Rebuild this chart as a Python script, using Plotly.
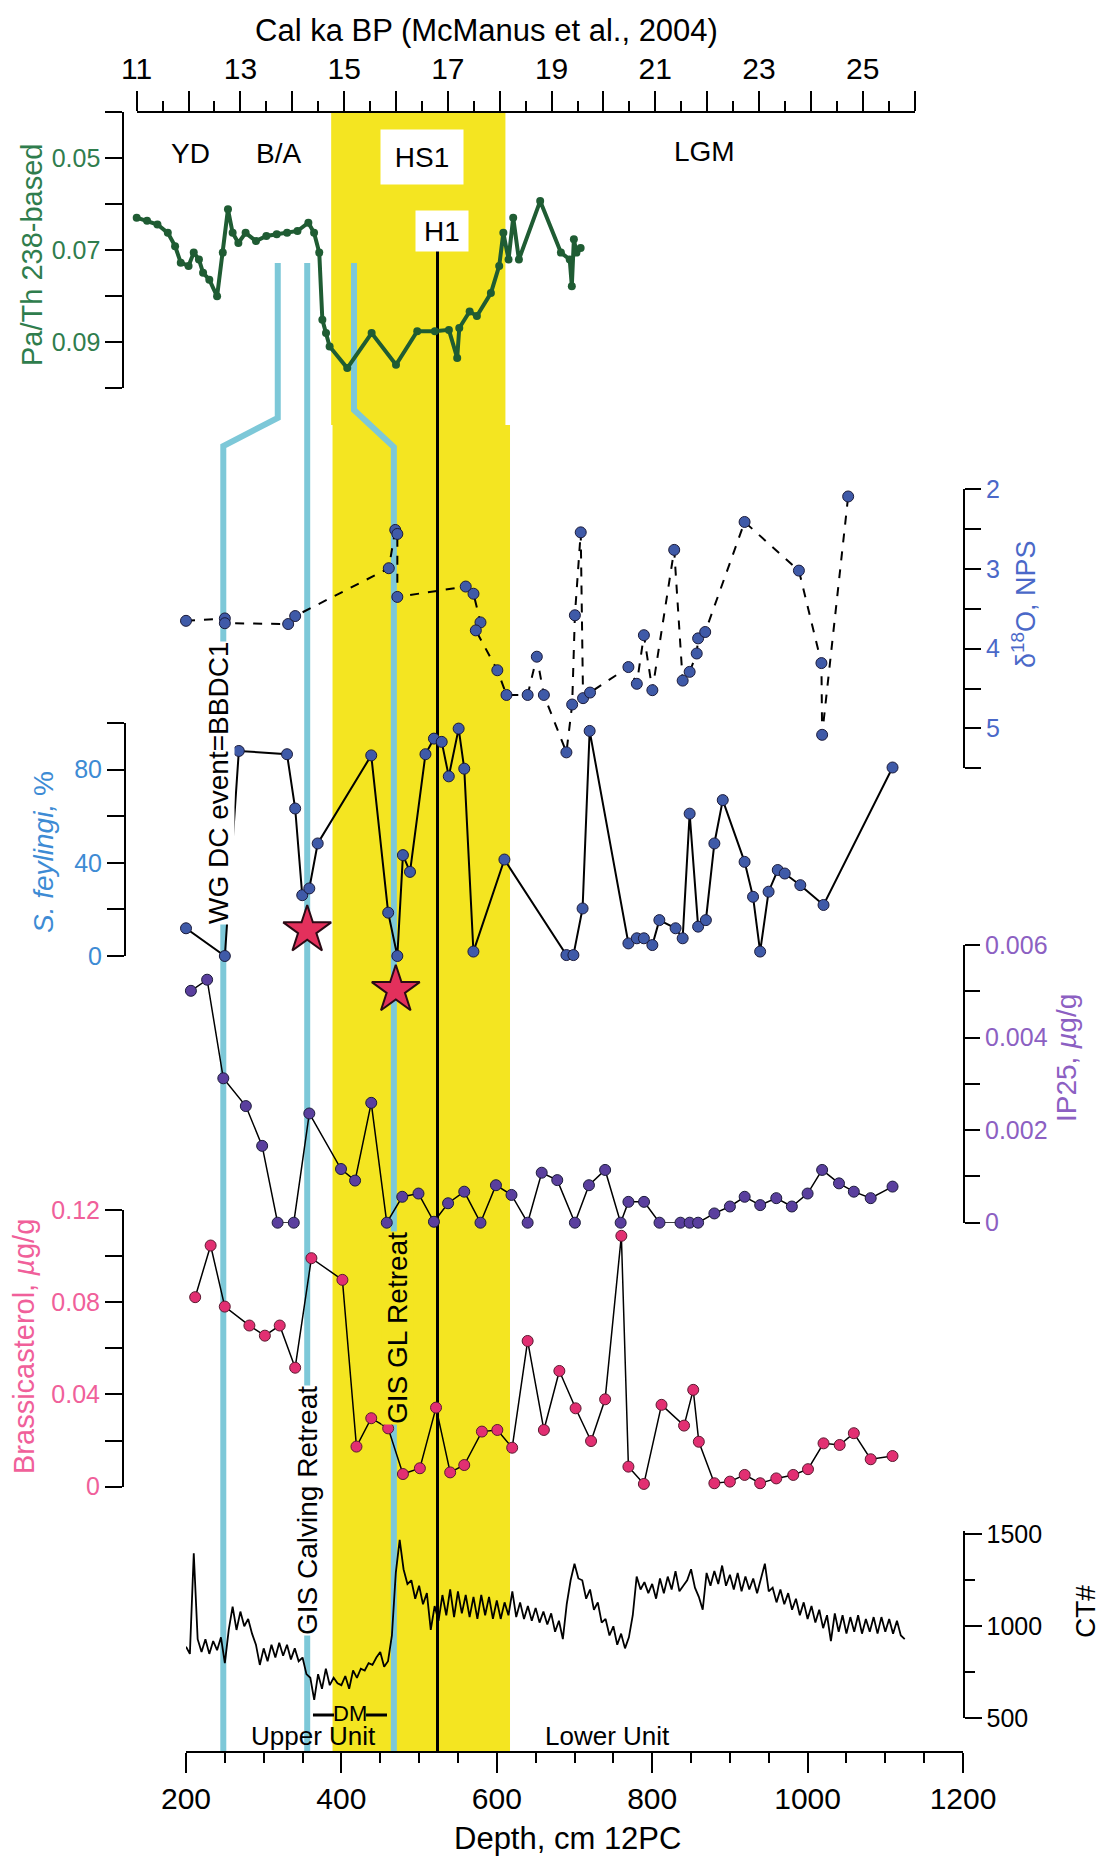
import plotly.graph_objects as go

W, H = 1104, 1861

# ---------------- data ----------------
# Pa/Th (238-based) vs calendar age (ka BP)
pa_age = [11.0, 11.2, 11.4, 11.6, 11.74, 11.85, 12.0, 12.1, 12.2, 12.28, 12.4, 12.55, 12.66, 12.76,
          12.85, 12.96, 13.1, 13.3, 13.5, 13.7, 13.9, 14.1, 14.31, 14.42, 14.52, 14.58, 14.65, 14.72,
          15.06, 15.53, 16.0, 16.41, 16.75, 17.02, 17.18, 17.22, 17.42, 17.56, 17.83, 17.99, 18.07,
          18.17, 18.26, 18.37, 18.78, 19.18, 19.35, 19.39, 19.43, 19.48, 19.56]
pa_val = [0.0629, 0.0636, 0.0644, 0.0662, 0.0691, 0.0727, 0.0734, 0.0705, 0.0720, 0.0749, 0.0764,
          0.0800, 0.0705, 0.0611, 0.0662, 0.0684, 0.0662, 0.0680, 0.0669, 0.0665, 0.0662, 0.0658,
          0.0640, 0.0662, 0.0705, 0.0851, 0.0880, 0.0909, 0.0956, 0.0880, 0.0949, 0.0876, 0.0876,
          0.0873, 0.0934, 0.0869, 0.0833, 0.0843, 0.0793, 0.0734, 0.0662, 0.0720, 0.0629, 0.0720,
          0.0593, 0.0705, 0.0720, 0.0778, 0.0676, 0.0705, 0.0695]

# delta18O NPS vs depth
d18_depth = [200, 250, 250, 331.5, 340.5, 461, 469.3, 472, 472, 560, 570, 579, 573, 600.7, 612.5,
             639.7, 651.5, 660.6, 689.6, 697, 700.5, 708, 711, 720, 769.4, 780.2, 789.3, 800.2,
             828.3, 839.2, 848.2, 857.3, 859.1, 868.2, 918.9, 988.8, 1017.8, 1018.7, 1052.2]
d18_val = [3.65, 3.62, 3.68, 3.69, 3.59, 2.99, 2.51, 2.56, 3.35, 3.22, 3.31, 3.67, 3.77, 4.27, 4.58,
           4.58, 4.10, 4.58, 5.30, 4.70, 3.58, 2.54, 4.62, 4.55, 4.23, 4.44, 3.83, 4.52, 2.76, 4.40,
           4.29, 4.06, 3.87, 3.79, 2.41, 3.02, 4.18, 5.08, 2.09]

# S. feylingi %
sf_depth = [200, 250, 268, 330, 340.5, 349.6, 358.7, 369.5, 438.4, 460.2, 472, 479.2, 488.3, 508.2,
            519.1, 529.1, 538.2, 550.9, 558.1, 569.9, 609.8, 689.6, 698.6, 710.4, 719.5, 769.4,
            780.2, 789.3, 800.2, 809.2, 830.1, 839.2, 848.2, 859.1, 869.1, 880, 890.8, 918.9, 929.8,
            938.9, 949.8, 961.6, 970.6, 990.6, 1020.5, 1109.3]
sf_val = [11.9, 0, 88, 86.6, 63.3, 26.1, 29, 48.3, 86.1, 18.6, 0, 43.3, 36.1, 86.6, 93.3, 91.9, 77.1,
          97.6, 80.4, 1.9, 41.4, 0.4, 0.4, 20.4, 96.6, 5.4, 7.6, 7.6, 4.7, 15.4, 11.9, 7.6, 61.1,
          12.6, 15.4, 48.3, 66.9, 40.4, 25.4, 1.9, 27.6, 36.9, 35.4, 30.4, 21.9, 80.9]

# IP25 ug/g
ip_depth = [206.3, 227.2, 248, 277, 298, 317.9, 338.7, 358.7, 399.5, 417.6, 438.4, 458.4, 478.3,
            499.2, 519.1, 537.3, 558.1, 579, 598.9, 618.9, 639.7, 657.8, 677.8, 700.5, 718.6, 739.4,
            759.4, 769.4, 789.5, 809.4, 836.4, 848.2, 859.1, 880, 900, 919, 939, 959.7, 979.7, 1000,
            1018.7, 1040.4, 1059.5, 1081.2, 1109.3]
ip_val = [0.00501, 0.00525, 0.00312, 0.00252, 0.00166, 0.0, 0.0, 0.00236, 0.00116, 0.00091, 0.00259,
          0.0, 0.00056, 0.00063, 0.00002, 0.00042, 0.00067, 0.0, 0.00081, 0.00060, 0.0, 0.00108,
          0.00092, 0.0, 0.00081, 0.00114, 0.0, 0.00045, 0.00045, 0.0, 0.0, 0.0, 0.0, 0.00020,
          0.00035, 0.00056, 0.00038, 0.00053, 0.00035, 0.00063, 0.00114, 0.00085, 0.00067, 0.00053,
          0.00078]

# Brassicasterol ug/g
br_depth = [211.8, 231.7, 249.9, 281.6, 301.5, 320.6, 340.5, 361.4, 401.3, 419.4, 438.4, 460.2, 479.2,
            501, 521.8, 540, 558.1, 580.8, 600.7, 619.8, 639.7, 660.6, 680.5, 701.4, 721.3, 739.4,
            760.3, 769.4, 789.3, 812, 841, 852.8, 860, 880, 900, 919, 938.9, 959.7, 981.5, 1000.5,
            1020.5, 1041.3, 1059.5, 1081.2, 1109.3]
br_val = [0.0822, 0.1046, 0.0781, 0.0699, 0.0655, 0.0699, 0.0516, 0.0991, 0.0897, 0.0174, 0.0297,
          0.0253, 0.0055, 0.0080, 0.0343, 0.0062, 0.0094, 0.0239, 0.0246, 0.0169, 0.0632, 0.0246,
          0.0502, 0.0340, 0.0198, 0.0379, 0.1088, 0.0087, 0.0012, 0.0355, 0.0265, 0.0420, 0.0195,
          0.0015, 0.0022, 0.0051, 0.0015, 0.0036, 0.0051, 0.0076, 0.0188, 0.0181, 0.0232, 0.0119,
          0.0133]

# CT number, sampled every 5 cm from 200 to 1125 cm
ct_depth = list(range(200, 1130, 5))
ct_val = [889, 850, 1397, 930, 860, 930, 850, 920, 870, 940,
          800, 980, 1107, 980, 1080, 1000, 1040, 960, 900, 790,
          880, 810, 900, 830, 910, 840, 900, 820, 880, 810,
          830, 740, 720, 600, 740, 660, 770, 680, 720, 690,
          680, 730, 660, 760, 720, 770, 760, 800, 790, 830,
          860, 780, 810, 950, 1290, 1470, 1310, 1230, 1250, 1150,
          1220, 1120, 1180, 980, 1110, 1030, 1170, 1060, 1200, 1050,
          1190, 1070, 1170, 1050, 1160, 1040, 1170, 1060, 1160, 1040,
          1140, 1040, 1130, 1060, 1190, 1050, 1130, 1040, 1110, 1030,
          1100, 1020, 1080, 1010, 1070, 970, 1030, 930, 1120, 1250,
          1340, 1260, 1250, 1150, 1200, 1090, 1130, 1020, 1040, 950,
          1000, 900, 960, 880, 940, 1060, 1270, 1200, 1240, 1180,
          1230, 1150, 1260, 1180, 1270, 1200, 1300, 1190, 1220, 1250,
          1310, 1210, 1160, 1090, 1290, 1220, 1300, 1230, 1330, 1220,
          1280, 1200, 1290, 1190, 1270, 1200, 1260, 1180, 1260, 1340,
          1190, 1210, 1130, 1200, 1120, 1180, 1090, 1150, 1060, 1130,
          1040, 1110, 1020, 1090, 990, 1060, 920, 1070, 970, 1060,
          960, 1050, 970, 1060, 960, 1040, 970, 1050, 960, 1050,
          970, 1040, 960, 1030, 950, 930]

# stars (events)
star1_depth, star1_sf = [356], [11.1]
star2_depth, star2_ip = [470], [0.00503]

# event markers
yd_age, ba_age, hs1_age, h1_age, lgm_age = 12.03, 13.73, 16.51, 16.88, 21.94
band_age = (14.75, 18.11)
band_depth = (388.6, 617)
h1_depth = 523.7
lineA_age, lineA_depth = 13.72, 248
lineB_depth = 356
lineC_age, lineC_depth = 15.19, 467.5
dm_depth = (363.4, 458.7)

depth_ticks = [200, 400, 600, 800, 1000, 1200]
age_ticks = list(range(11, 27))
age_ticktext = [str(a) if a % 2 == 1 and a <= 25 else '' for a in age_ticks]

# ---------------- geometry helpers (pixel layout) ----------------
X_D0, X_D1 = 186.0, 963.0      # depth 200 / 1200 pixels
X_A0, X_A1 = 136.7, 914.6      # age 11 / 26 pixels


def fx(px):
    return px / W


def fy(px):
    return 1 - px / H


def dpx(d):
    return X_D0 + (d - 200) * (X_D1 - X_D0) / 1000.0


def apx(a):
    return X_A0 + (a - 11) * (X_A1 - X_A0) / 15.0


FONT = 'Liberation Sans, Arial, Helvetica, sans-serif'
GREEN = '#1f5c33'
GREEN_T = '#2f7d4d'
BLUE_D = '#4a68c8'
BLUE_S = '#3d8bd4'
PURPLE = '#8c60c2'
PINK = '#f0609a'
CYAN = '#7dc8d8'
YELLOW = '#f4e521'

fig = go.Figure()

fig.add_trace(go.Scatter(x=pa_age, y=pa_val, xaxis='x2', yaxis='y', mode='lines+markers',
                         line=dict(color=GREEN, width=4), marker=dict(size=8, color=GREEN),
                         cliponaxis=False))
fig.add_trace(go.Scatter(x=d18_depth, y=d18_val, xaxis='x', yaxis='y2', mode='lines+markers',
                         line=dict(color='black', width=2, dash='dash'),
                         marker=dict(size=11, color='#3f5aa8', line=dict(color='#1b1b3a', width=1)),
                         cliponaxis=False))
fig.add_trace(go.Scatter(x=sf_depth, y=sf_val, xaxis='x', yaxis='y3', mode='lines+markers',
                         line=dict(color='black', width=2),
                         marker=dict(size=11, color='#3f5aa8', line=dict(color='#1b1b3a', width=1)),
                         cliponaxis=False))
fig.add_trace(go.Scatter(x=ip_depth, y=ip_val, xaxis='x', yaxis='y4', mode='lines+markers',
                         line=dict(color='black', width=1.5),
                         marker=dict(size=11, color='#5a3f9e', line=dict(color='#1b1b3a', width=1)),
                         cliponaxis=False))
fig.add_trace(go.Scatter(x=br_depth, y=br_val, xaxis='x', yaxis='y5', mode='lines+markers',
                         line=dict(color='black', width=1.5),
                         marker=dict(size=11, color='#e22f72', line=dict(color='#5a1a30', width=1)),
                         cliponaxis=False))
fig.add_trace(go.Scatter(x=ct_depth, y=ct_val, xaxis='x', yaxis='y6', mode='lines',
                         line=dict(color='black', width=1.8), cliponaxis=False))
fig.add_trace(go.Scatter(x=star1_depth, y=star1_sf, xaxis='x', yaxis='y3', mode='markers',
                         marker=dict(symbol='star', size=36, color='#e3305c',
                                     line=dict(color='#2a0a14', width=2)), cliponaxis=False))
fig.add_trace(go.Scatter(x=star2_depth, y=star2_ip, xaxis='x', yaxis='y4', mode='markers',
                         marker=dict(symbol='star', size=36, color='#e3305c',
                                     line=dict(color='#2a0a14', width=2)), cliponaxis=False))

axis_common = dict(showline=True, linecolor='black', linewidth=2, ticks='outside', tickwidth=2,
                   tickcolor='black', showgrid=False, zeroline=False, anchor='free',
                   automargin=False)

layout = dict(
    width=W, height=H, margin=dict(l=0, r=0, t=0, b=0, autoexpand=False),
    paper_bgcolor='white', plot_bgcolor='rgba(0,0,0,0)', showlegend=False,
    font=dict(family=FONT, color='black'),
    xaxis=dict(axis_common, domain=[fx(X_D0), fx(X_D1)], range=[200, 1200], position=fy(1751.7),
               side='bottom', ticklen=20, tickvals=depth_ticks, tickfont=dict(size=30),
               minor=dict(tickvals=list(range(250, 1200, 50)), ticklen=10, tickwidth=2,
                          tickcolor='black', ticks='outside')),
    xaxis2=dict(axis_common, domain=[fx(X_A0), fx(X_A1)], range=[11, 26], position=fy(112.3),
                side='top', ticklen=20, tickvals=age_ticks, ticktext=age_ticktext,
                tickfont=dict(size=30),
                minor=dict(tickvals=[a + 0.5 for a in range(11, 26)], ticklen=10, tickwidth=2,
                           tickcolor='black', ticks='outside')),
    yaxis=dict(axis_common, domain=[fy(388.3), fy(112.3)], range=[0.10, 0.04], position=fx(123.3),
               side='left', ticklen=17, tickvals=[0.04, 0.05, 0.06, 0.07, 0.08, 0.09, 0.10],
               ticktext=['', '0.05', '', '0.07', '', '0.09', ''],
               tickfont=dict(size=25, color=GREEN_T)),
    yaxis2=dict(axis_common, domain=[fy(768.3), fy(489.3)], range=[5.5, 2], position=fx(964),
                side='right', ticklen=16, tickvals=[2, 2.5, 3, 3.5, 4, 4.5, 5, 5.5],
                ticktext=['2', '', '3', '', '4', '', '5', ''],
                tickfont=dict(size=25, color=BLUE_D)),
    yaxis3=dict(axis_common, domain=[fy(956), fy(723)], range=[0, 100], position=fx(125),
                side='left', ticklen=17, tickvals=[0, 20, 40, 60, 80, 100],
                ticktext=['0', '', '40', '', '80', ''],
                tickfont=dict(size=25, color=BLUE_S)),
    yaxis4=dict(axis_common, domain=[fy(1222.7), fy(945)], range=[0, 0.006], position=fx(964),
                side='right', ticklen=15,
                tickvals=[0, 0.001, 0.002, 0.003, 0.004, 0.005, 0.006],
                ticktext=['0', '', '0.002', '', '0.004', '', '0.006'],
                tickfont=dict(size=25, color=PURPLE)),
    yaxis5=dict(axis_common, domain=[fy(1486.7), fy(1210)], range=[0, 0.12], position=fx(123),
                side='left', ticklen=17, tickvals=[0, 0.02, 0.04, 0.06, 0.08, 0.10, 0.12],
                ticktext=['0', '', '0.04', '', '0.08', '', '0.12'],
                tickfont=dict(size=25, color=PINK)),
    yaxis6=dict(axis_common, domain=[fy(1718.3), fy(1530.6)], range=[500, 1520], position=fx(963.5),
                side='right', ticklen=17, tickvals=[500, 1000, 1500],
                tickfont=dict(size=25, color='black'),
                minor=dict(tickvals=[750, 1250], ticklen=10, tickwidth=2, tickcolor='black',
                           ticks='outside')),
)

shapes = []
# yellow HS1 band
shapes.append(dict(type='rect', xref='x2', yref='paper', x0=band_age[0], x1=band_age[1],
                   y0=fy(425), y1=fy(112.3), fillcolor=YELLOW, line=dict(width=0), layer='below'))
shapes.append(dict(type='rect', xref='x', yref='paper', x0=band_depth[0], x1=band_depth[1],
                   y0=fy(1751.7), y1=fy(425), fillcolor=YELLOW, line=dict(width=0), layer='below'))


def path(points):
    s = 'M ' + ' L '.join('%.5f,%.5f' % (fx(p[0]), fy(p[1])) for p in points)
    return s


# cyan tie lines
shapes.append(dict(type='path', xref='paper', yref='paper', layer='below',
                   path=path([(apx(lineA_age), 263), (apx(lineA_age), 418),
                              (dpx(lineA_depth), 446), (dpx(lineA_depth), 1751.7)]),
                   line=dict(color=CYAN, width=6)))
shapes.append(dict(type='path', xref='paper', yref='paper', layer='below',
                   path=path([(dpx(lineB_depth), 263), (dpx(lineB_depth), 1751.7)]),
                   line=dict(color=CYAN, width=6)))
shapes.append(dict(type='path', xref='paper', yref='paper', layer='below',
                   path=path([(apx(lineC_age), 263), (apx(lineC_age), 410),
                              (dpx(lineC_depth), 447), (dpx(lineC_depth), 1751.7)]),
                   line=dict(color=CYAN, width=6)))
# H1 line
shapes.append(dict(type='line', xref='x', yref='paper', x0=h1_depth, x1=h1_depth,
                   y0=fy(1751.7), y1=fy(250), line=dict(color='black', width=3), layer='below'))
# DM bar
shapes.append(dict(type='line', xref='x', yref='paper', x0=dm_depth[0], x1=390.5,
                   y0=fy(1715), y1=fy(1715), line=dict(color='black', width=3)))
shapes.append(dict(type='line', xref='x', yref='paper', x0=431.7, x1=dm_depth[1],
                   y0=fy(1715), y1=fy(1715), line=dict(color='black', width=3)))
layout['shapes'] = shapes

ann = []


def A(text, x, y, size, color='black', xref='paper', angle=0, **kw):
    d = dict(text=text, x=x if xref != 'paper' else fx(x), y=fy(y), xref=xref, yref='paper',
             showarrow=False, textangle=angle, font=dict(size=size, color=color, family=FONT),
             xanchor='center', yanchor='middle')
    d.update(kw)
    ann.append(d)


A('Cal ka BP (McManus et al., 2004)', 486, 30, 31)
A('Depth, cm 12PC', 567, 1838, 31)
A('Pa/Th 238-based', 32, 255, 29, GREEN_T, angle=-90)
A('δ<sup>18</sup>O, NPS', 1024, 604, 27, BLUE_D, angle=-90)
A('<i>S. feylingi,</i> %', 43, 852, 28, BLUE_S, angle=-90)
A('IP25, <i>µ</i>g/g', 1066, 1058, 28, PURPLE, angle=-90)
A('Brassicasterol, <i>µ</i>g/g', 24, 1347, 29, PINK, angle=-90)
A('CT#', 1085, 1612, 28, 'black', angle=-90)

A('YD', yd_age, 153, 28, xref='x2')
A('B/A', ba_age, 153, 28, xref='x2')
A('LGM', lgm_age, 152, 28, xref='x2')
A('HS1', hs1_age, 157, 28, xref='x2', bgcolor='white', width=80, height=52)
A('H1', h1_age, 231, 28, xref='x2', bgcolor='white', width=50, height=38)

A('WG DC event=BBDC1', 218, 783, 28, angle=-90, bgcolor='white', borderpad=0)
A('GIS Calving Retreat', 307, 1511, 28, angle=-90, bgcolor='white', borderpad=0)
A('GIS GL Retreat', 397, 1328, 28, angle=-90, bgcolor=YELLOW, borderpad=0)
A('DM', 411, 1713, 22, xref='x')
A('Upper Unit', 313, 1736, 26)
A('Lower Unit', 607, 1736, 26)
layout['annotations'] = ann

fig.update_layout(**layout)
fig.write_html('out.html')
